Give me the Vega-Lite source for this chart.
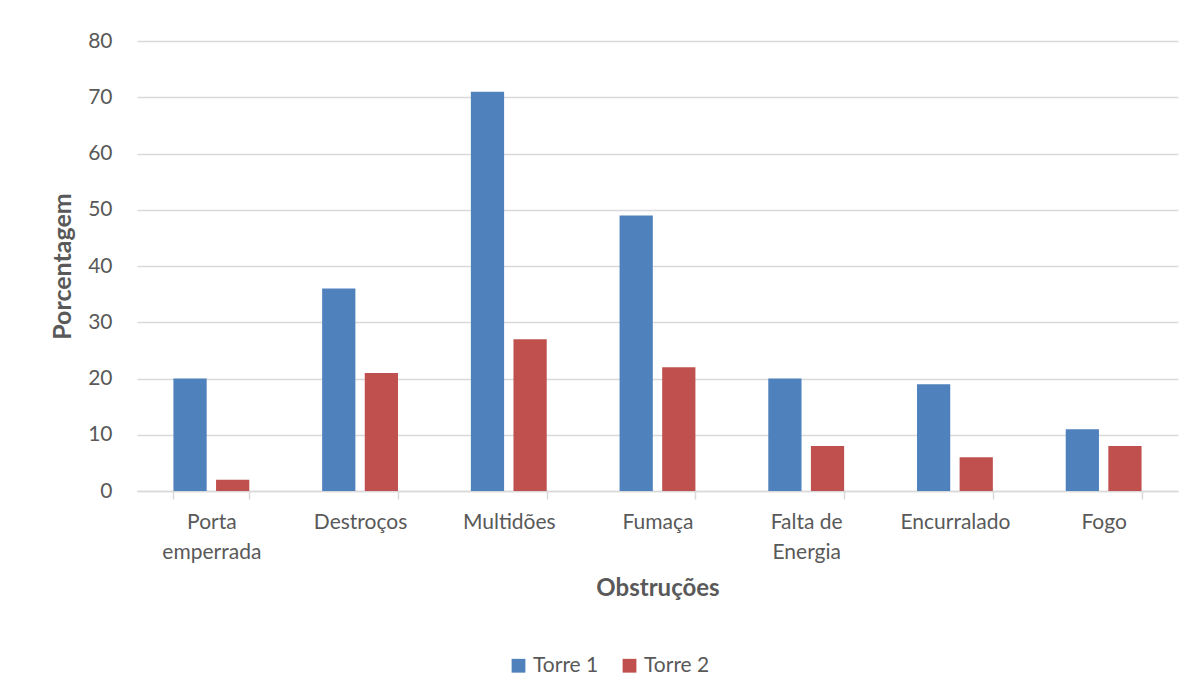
{
  "$schema": "https://vega.github.io/schema/vega-lite/v6.json",
  "width": 1041,
  "height": 450,
  "autosize": {"type": "none"},
  "padding": {"left": 137, "top": 41, "right": 17, "bottom": 207},
  "background": "white",
  "data": {
    "values": [
      {"obstrucao": "Porta emperrada", "torre": "Torre 1", "valor": 20},
      {"obstrucao": "Porta emperrada", "torre": "Torre 2", "valor": 2},
      {"obstrucao": "Destroços", "torre": "Torre 1", "valor": 36},
      {"obstrucao": "Destroços", "torre": "Torre 2", "valor": 21},
      {"obstrucao": "Multidões", "torre": "Torre 1", "valor": 71},
      {"obstrucao": "Multidões", "torre": "Torre 2", "valor": 27},
      {"obstrucao": "Fumaça", "torre": "Torre 1", "valor": 49},
      {"obstrucao": "Fumaça", "torre": "Torre 2", "valor": 22},
      {"obstrucao": "Falta de Energia", "torre": "Torre 1", "valor": 20},
      {"obstrucao": "Falta de Energia", "torre": "Torre 2", "valor": 8},
      {"obstrucao": "Encurralado", "torre": "Torre 1", "valor": 19},
      {"obstrucao": "Encurralado", "torre": "Torre 2", "valor": 6},
      {"obstrucao": "Fogo", "torre": "Torre 1", "valor": 11},
      {"obstrucao": "Fogo", "torre": "Torre 2", "valor": 8}
    ]
  },
  "mark": {"type": "bar", "stroke": null},
  "encoding": {
    "x": {
      "field": "obstrucao",
      "type": "nominal",
      "sort": null,
      "scale": {"paddingInner": 0.49, "paddingOuter": 0.245},
      "axis": {
        "title": "Obstruções",
        "labelAngle": 0,
        "labelFont": "Lato",
        "labelFontSize": 21,
        "labelColor": "#595959",
        "labelPadding": 12,
        "labelLineHeight": 30,
        "labelExpr": "datum.label == 'Porta emperrada' ? ['Porta', 'emperrada'] : datum.label == 'Falta de Energia' ? ['Falta de', 'Energia'] : datum.label",
        "tickBand": "extent",
        "tickSize": 8,
        "tickColor": "#d9d9d9",
        "tickWidth": 1.5,
        "domainColor": "#d9d9d9",
        "domainWidth": 1.5,
        "titleFont": "Lato",
        "titleFontSize": 24,
        "titleFontWeight": "bold",
        "titleColor": "#595959",
        "titlePadding": 14
      }
    },
    "xOffset": {
      "field": "torre",
      "type": "nominal",
      "scale": {"paddingInner": 0.22, "paddingOuter": 0}
    },
    "y": {
      "field": "valor",
      "type": "quantitative",
      "scale": {"domain": [0, 80]},
      "axis": {
        "title": "Porcentagem",
        "values": [0, 10, 20, 30, 40, 50, 60, 70, 80],
        "domain": false,
        "ticks": false,
        "gridColor": "#d9d9d9",
        "gridWidth": 1.5,
        "labelFont": "Lato",
        "labelFontSize": 21,
        "labelColor": "#595959",
        "labelPadding": 25,
        "titleFont": "Lato",
        "titleFontSize": 25,
        "titleFontWeight": "bold",
        "titleColor": "#595959",
        "titlePadding": 12
      }
    },
    "color": {
      "field": "torre",
      "type": "nominal",
      "scale": {"domain": ["Torre 1", "Torre 2"], "range": ["#4f81bd", "#c0504d"]},
      "legend": {
        "title": null,
        "orient": "none",
        "legendX": 371,
        "legendY": 614,
        "direction": "horizontal",
        "symbolType": "square",
        "symbolSize": 190,
        "symbolStrokeWidth": 0,
        "labelFont": "Lato",
        "labelFontSize": 21,
        "labelColor": "#595959",
        "labelOffset": 4,
        "columnPadding": 20
      }
    }
  },
  "config": {
    "view": {"stroke": null}
  }
}
